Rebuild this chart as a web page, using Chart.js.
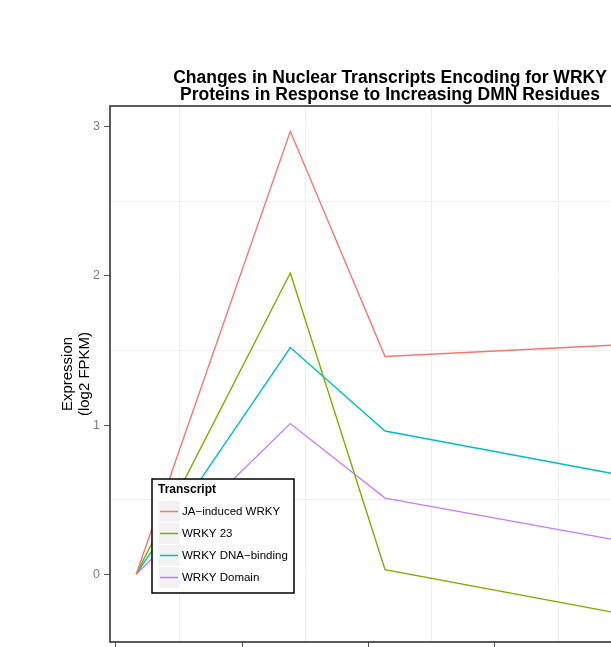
<!DOCTYPE html>
<html>
<head>
<meta charset="utf-8">
<title>WRKY transcripts vs DMN residues</title>
<script src="https://cdn.jsdelivr.net/npm/chart.js@4.4.1/dist/chart.umd.min.js"></script>
<style>
  html, body { margin: 0; padding: 0; overflow: hidden; background: #fff; }
  #wrap { position: absolute; left: 0; top: 0; }
</style>
</head>
<body>
<div id="wrap"><canvas id="lineChart" width="670" height="700"></canvas></div>
<script>
// DMN residue level for each sample (x) and expression in log2 FPKM
const dmnLevels = [1.6, 13.8, 21.3, 42.8]
const jaInduced = [0, 2.97, 1.46, 1.55]
const wrky23 = [0, 2.02, 0.03, -0.31]
const dnaBinding = [0, 1.52, 0.96, 0.62]
const wrkyDomain = [0, 1.01, 0.51, 0.18]

const seriesNames = ['JA−induced WRKY', 'WRKY 23', 'WRKY DNA−binding', 'WRKY Domain']
const seriesColors = ['#F8766D', '#7CAE00', '#00BFC4', '#C77CFF']

// breaks: whole ones get tick marks + labels, the halves are the minor grid
const xTicks = [0, 5, 10, 15, 20, 25, 30, 35, 40]
const yTicks = [0, 0.5, 1, 1.5, 2, 2.5, 3]

const FONT = '"Liberation Sans", Arial, Helvetica, sans-serif'

function toPoints(ys) {
  return dmnLevels.map((x, i) => ({ x: x, y: ys[i] }))
}

const isMajorX = v => v % 10 === 0
const isMajorY = v => Number.isInteger(v)

// dark frame round the panel (ggplot style)
const panelBorder = {
  id: 'panelBorder',
  afterDatasetsDraw(chart) {
    const { ctx, chartArea: a } = chart
    ctx.save()
    ctx.strokeStyle = '#333333'
    ctx.lineWidth = 1.6
    ctx.strokeRect(a.left, a.top, a.right - a.left, a.bottom - a.top)
    ctx.restore()
  }
}

// legend box sitting inside the panel, lower left
const insideLegend = {
  id: 'insideLegend',
  afterDraw(chart) {
    const ctx = chart.ctx
    const bx = 152, by = 479, bw = 142, bh = 114
    ctx.save()
    ctx.fillStyle = '#ffffff'
    ctx.fillRect(bx, by, bw, bh)
    ctx.strokeStyle = '#000000'
    ctx.lineWidth = 1.5
    ctx.strokeRect(bx, by, bw, bh)

    ctx.fillStyle = '#000000'
    ctx.textBaseline = 'middle'
    ctx.font = 'bold 12px ' + FONT
    ctx.fillText('Transcript', 158, 489.5)

    chart.data.datasets.forEach((ds, i) => {
      const cy = 511.5 + i * 22
      ctx.fillStyle = '#f2f2f2'
      ctx.fillRect(158.5, cy - 10.5, 21, 21)
      ctx.strokeStyle = ds.borderColor
      ctx.lineWidth = 1.5
      ctx.beginPath()
      ctx.moveTo(160, cy)
      ctx.lineTo(178, cy)
      ctx.stroke()
      ctx.fillStyle = '#000000'
      ctx.font = '11.5px ' + FONT
      ctx.fillText(ds.label, 182, cy)
    })
    ctx.restore()
  }
}

const seriesValues = [jaInduced, wrky23, dnaBinding, wrkyDomain]

new Chart(document.getElementById('lineChart'), {
  type: 'line',
  data: {
    datasets: seriesValues.map((vals, i) => ({
      label: seriesNames[i],
      data: toPoints(vals),
      borderColor: seriesColors[i],
      backgroundColor: seriesColors[i],
      borderWidth: 1.4,
      pointRadius: 0,
      tension: 0,
      fill: false
    }))
  },
  options: {
    responsive: false,
    animation: false,
    layout: { padding: 0 },
    plugins: {
      legend: { display: false },
      tooltip: { enabled: false },
      title: {
        display: true,
        fullSize: false,
        text: ['Changes in Nuclear Transcripts Encoding for WRKY', 'Proteins in Response to Increasing DMN Residues'],
        color: '#000000',
        font: { family: FONT, size: 17.5, weight: 'bold', lineHeight: 1.0 },
        padding: { top: 69, bottom: 2 }
      }
    },
    scales: {
      x: {
        type: 'linear',
        min: -0.475,
        max: 43.86,
        afterBuildTicks: s => { s.ticks = xTicks.map(v => ({ value: v })) },
        afterFit: s => { s.height = 58 },
        border: { display: false },
        grid: {
          color: c => isMajorX(c.tick.value) ? '#ffffff' : '#efefef',
          tickColor: c => isMajorX(c.tick.value) ? '#555555' : 'rgba(0,0,0,0)',
          tickLength: 6,
          lineWidth: 1
        },
        ticks: {
          autoSkip: false,
          maxRotation: 0,
          padding: 4,
          color: '#7f7f7f',
          font: { family: FONT, size: 12.5 },
          callback: v => isMajorX(v) ? v : ''
        }
      },
      y: {
        type: 'linear',
        min: -0.455,
        max: 3.14,
        afterBuildTicks: s => { s.ticks = yTicks.map(v => ({ value: v })) },
        afterFit: s => { s.width = 110 },
        border: { display: false },
        grid: {
          color: c => isMajorY(c.tick.value) ? '#ffffff' : '#efefef',
          tickColor: c => isMajorY(c.tick.value) ? '#555555' : 'rgba(0,0,0,0)',
          tickLength: 6,
          lineWidth: 1
        },
        ticks: {
          autoSkip: false,
          padding: 4,
          color: '#7f7f7f',
          font: { family: FONT, size: 12.5 },
          callback: v => isMajorY(v) ? v : ''
        },
        title: {
          display: true,
          text: ['Expression', '(log2 FPKM)'],
          color: '#000000',
          font: { family: FONT, size: 15, lineHeight: 1.15 },
          padding: { top: 59, bottom: 0 }
        }
      }
    }
  },
  plugins: [panelBorder, insideLegend]
})
</script>
</body>
</html>
